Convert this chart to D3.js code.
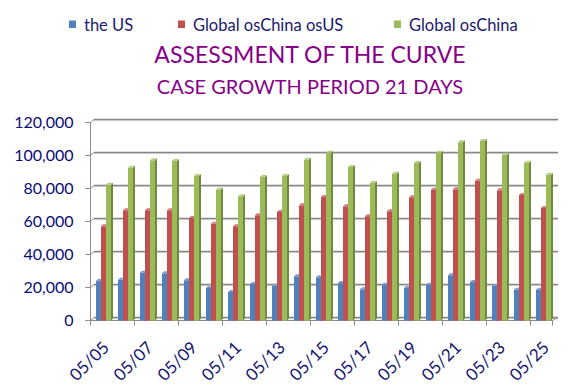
<!DOCTYPE html>
<html>
<head>
<meta charset="utf-8">
<script src="https://cdn.jsdelivr.net/npm/d3@7"></script>
<style>
  body { margin: 0; background: #fff; }
  svg { display: block; font-family: Lato, "Open Sans", sans-serif; }
</style>
</head>
<body>
<svg id="chart"></svg>
<script>
var days = ["05/05","05/06","05/07","05/08","05/09","05/10","05/11","05/12","05/13","05/14","05/15",
            "05/16","05/17","05/18","05/19","05/20","05/21","05/22","05/23","05/24","05/25"];
var seriesNames = ["the US", "Global osChina osUS", "Global osChina"];
var theUS = [23900, 24700, 29000, 28600, 24400, 19700, 17300, 22100, 21100, 26800, 26200,
             22700, 18900, 21700, 19700, 21700, 27400, 23300, 20900, 18700, 18700];
var globalExChinaUS = [57100, 66800, 66800, 66800, 62100, 58700, 57100, 63800, 65800, 69800, 74800,
                       69200, 63200, 66200, 74700, 79300, 79500, 84700, 78900, 76100, 68200];
var globalExChina = [82300, 92600, 97100, 96700, 87600, 79300, 75300, 87000, 87600, 97500, 101700,
                     93000, 83300, 89000, 95500, 101700, 108000, 108800, 100500, 95600, 88400];
var yTicks = [0, 20000, 40000, 60000, 80000, 100000, 120000];
var xLabels = ["05/05","05/07","05/09","05/11","05/13","05/15","05/17","05/19","05/21","05/23","05/25"];

var svgWidth = 580, svgHeight = 389;
var colors = ["#4F81BD", "#C0504D", "#9BBB59"];
var sides = ["#385D8A", "#8C3836", "#71893F"];
var tops = ["#7C9FCF", "#D47C7A", "#B5CE84"];
// 3D offsets: back wall and bar depth
var wallDx = 3.5, wallDy = -3;
var barDx = 2, barDy = -2;

var svg = d3.select("#chart")
    .attr("width", svgWidth)
    .attr("height", svgHeight);

var x = d3.scaleBand().domain(days).range([90.5, 552.5]);
var xs = d3.scaleBand().domain(seriesNames).range([5.5, 20.5]);
var y = d3.scaleLinear().domain([0, 120000]).range([320.5, 122.5]);

var rows = days.map(function(d, i) {
  return { day: d, vals: [theUS[i], globalExChinaUS[i], globalExChina[i]] };
});

// back wall gridlines
var grid = svg.append("g");
yTicks.forEach(function(t) {
  var yy = y(t);
  grid.append("line")
      .attr("x1", 90.5 + wallDx).attr("x2", 552.5 + wallDx + 2)
      .attr("y1", yy + wallDy + 1.2).attr("y2", yy + wallDy + 1.2)
      .attr("stroke", "#d9d9d9").attr("stroke-width", 1);
  grid.append("line")
      .attr("x1", 90.5 + wallDx).attr("x2", 552.5 + wallDx + 2)
      .attr("y1", yy + wallDy).attr("y2", yy + wallDy)
      .attr("stroke", "#868686").attr("stroke-width", 1.3);
  // left wall connector + tick
  grid.append("path")
      .attr("d", "M" + 85 + "," + yy + "L90.5," + yy + "L" + (90.5 + wallDx) + "," + (yy + wallDy))
      .attr("fill", "none").attr("stroke", "#8c8c8c").attr("stroke-width", 1);
});

// floor front edge and right edge
svg.append("path")
    .attr("d", "M90.5," + y(0) + "L552.5," + y(0) + "L" + (552.5 + wallDx + 2) + "," + (y(0) + wallDy))
    .attr("fill", "none").attr("stroke", "#8c8c8c").attr("stroke-width", 1);
svg.append("line")
    .attr("x1", 90.5).attr("x2", 90.5)
    .attr("y1", y(120000)).attr("y2", y(0))
    .attr("stroke", "#8c8c8c").attr("stroke-width", 1);

// bars
var groups = svg.selectAll(".cat")
    .data(rows)
    .enter()
    .append("g")
    .attr("class", "cat")
    .attr("transform", function(d) { return "translate(" + x(d.day) + ",0)"; });

seriesNames.forEach(function(s, k) {
  var w = xs.bandwidth();
  groups.append("rect")
      .attr("x", xs(s))
      .attr("y", function(d) { return y(d.vals[k]); })
      .attr("width", w)
      .attr("height", function(d) { return y(0) - y(d.vals[k]); })
      .attr("fill", colors[k]);
  groups.append("path")
      .attr("d", function(d) {
        var x0 = xs(s) + w, yt = y(d.vals[k]), yb = y(0);
        return "M" + x0 + "," + yt + "L" + (x0 + barDx) + "," + (yt + barDy) +
               "L" + (x0 + barDx) + "," + (yb + barDy) + "L" + x0 + "," + yb + "Z";
      })
      .attr("fill", sides[k]);
  groups.append("path")
      .attr("d", function(d) {
        var x0 = xs(s), yt = y(d.vals[k]);
        return "M" + x0 + "," + yt + "L" + (x0 + w) + "," + yt +
               "L" + (x0 + w + barDx) + "," + (yt + barDy) + "L" + (x0 + barDx) + "," + (yt + barDy) + "Z";
      })
      .attr("fill", tops[k]);
});

// x ticks every 2 categories
svg.selectAll(".xtick")
    .data(days.filter(function(d, i) { return i % 2 === 0; }).concat(["end"]))
    .enter()
    .append("line")
    .attr("x1", function(d) { return d === "end" ? 552.5 : x(d); })
    .attr("x2", function(d) { return d === "end" ? 552.5 : x(d); })
    .attr("y1", y(0)).attr("y2", y(0) + 5)
    .attr("stroke", "#8c8c8c");

svg.selectAll(".xlabel")
    .data(xLabels)
    .enter()
    .append("text")
    .attr("class", "xlabel")
    .attr("transform", function(d) { return "translate(" + (x(d) + x.bandwidth() / 2) + ",340) rotate(-45)"; })
    .attr("text-anchor", "end")
    .attr("dy", "0.72em")
    .style("font-size", "17px")
    .style("fill", "#15156E")
    .text(function(d) { return d; });

svg.selectAll(".ylabel")
    .data(yTicks)
    .enter()
    .append("text")
    .attr("class", "ylabel")
    .attr("x", 73.5)
    .attr("y", function(d) { return y(d); })
    .attr("dy", "0.36em")
    .attr("text-anchor", "end")
    .style("font-size", "16px")
    .style("fill", "#0A0A78")
    .text(function(d) { return d3.format(",")(d); });

// titles
svg.append("text")
    .attr("x", 310).attr("y", 63)
    .attr("text-anchor", "middle")
    .style("font-size", "23px")
    .style("fill", "#880088")
    .text("ASSESSMENT OF THE CURVE");
svg.append("text")
    .attr("x", 310).attr("y", 94)
    .attr("text-anchor", "middle")
    .style("font-size", "20px")
    .style("fill", "#880088")
    .text("CASE GROWTH PERIOD 21 DAYS");

// legend
var legendX = [69, 178, 394];
var legend = svg.selectAll(".legend")
    .data(seriesNames)
    .enter()
    .append("g")
    .attr("class", "legend")
    .attr("transform", function(d, i) { return "translate(" + legendX[i] + ",0)"; });
legend.append("rect")
    .attr("x", 0).attr("y", 20.5)
    .attr("width", 7).attr("height", 7.5)
    .attr("fill", function(d, i) { return colors[i]; });
legend.append("text")
    .attr("x", 15).attr("y", 30.5)
    .style("font-size", "16.5px")
    .style("fill", "#1A1A6E")
    .text(function(d) { return d; });
</script>
</body>
</html>
